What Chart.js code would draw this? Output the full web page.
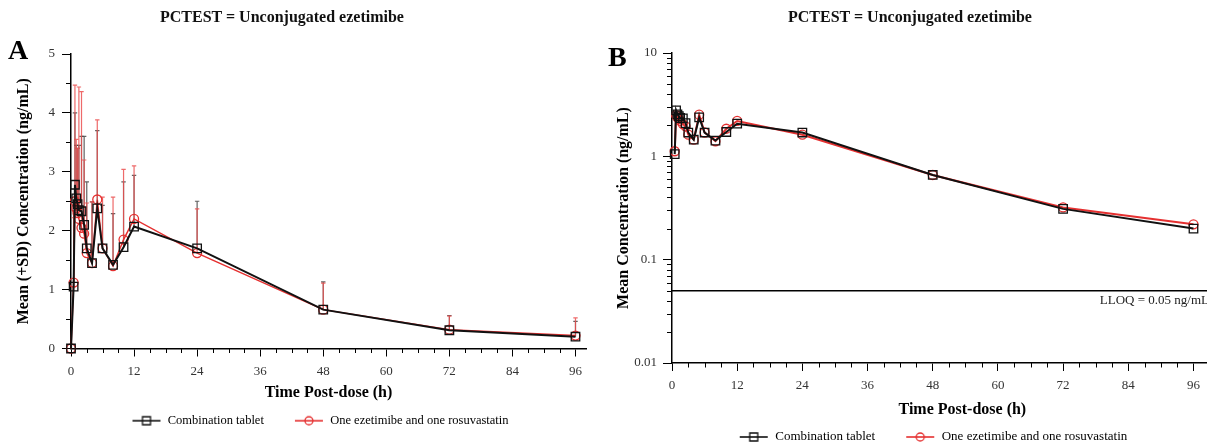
<!DOCTYPE html>
<html><head><meta charset="utf-8">
<script src="https://cdn.jsdelivr.net/npm/chart.js@4.4.0/dist/chart.umd.min.js"></script>
<style>
html,body{margin:0;padding:0;background:#fff;}
body{width:1207px;height:444px;overflow:hidden;position:relative;font-family:"Liberation Serif","DejaVu Serif",serif;}
.wrap{position:absolute;top:0;}
#wa{left:0;width:600px;height:480px;}
#wb{left:600px;width:660px;height:480px;}
.ttl{position:absolute;top:7px;font-weight:bold;font-size:16px;white-space:nowrap;transform:translateX(-50%);line-height:20px;color:#111;}
.lab{position:absolute;font-weight:bold;font-size:28px;line-height:28px;color:#000;}
</style></head><body>
<div class="wrap" id="wa"><canvas id="ca" width="600" height="480"></canvas></div>
<div class="wrap" id="wb"><canvas id="cb" width="660" height="480"></canvas></div>
<div class="ttl" style="left:282px">PCTEST = Unconjugated ezetimibe</div>
<div class="ttl" style="left:910px">PCTEST = Unconjugated ezetimibe</div>
<div class="lab" style="left:8px;top:36px">A</div>
<div class="lab" style="left:608px;top:43px">B</div>
<script>
// ---- data ----
const times = [0, 0.5, 0.75, 1, 1.25, 1.5, 2, 2.5, 3, 4, 5, 6, 8, 10, 12, 24, 48, 72, 96];
const comboMean = [0, 1.05, 2.78, 2.55, 2.45, 2.35, 2.33, 2.1, 1.7, 1.45, 2.38, 1.7, 1.42, 1.72, 2.07, 1.70, 0.66, 0.31, 0.20];
const comboSD = [0, 1.3, 1.22, 0.9, 0.95, 1.1, 1.27, 1.5, 1.13, 1.04, 1.32, 0.73, 0.87, 1.11, 0.87, 0.80, 0.47, 0.25, 0.26];
const singleMean = [0, 1.12, 2.5, 2.38, 2.3, 2.2, 2.05, 1.95, 1.62, 1.45, 2.53, 1.7, 1.4, 1.85, 2.2, 1.62, 0.66, 0.32, 0.22];
const singleSD = [0, 1.1, 1.97, 1.17, 1.1, 2.24, 2.31, 1.25, 0.85, 1.04, 1.35, 0.87, 1.17, 1.19, 0.9, 0.75, 0.45, 0.23, 0.30];
const seriesNames = ['Combination tablet', 'One ezetimibe and one rosuvastatin'];
const xTicks = [0, 12, 24, 36, 48, 60, 72, 84, 96];
const yTicksA = [0, 1, 2, 3, 4, 5];
const yTicksB = [0.01, 0.1, 1, 10];
const yTickLabelsB = ['0.01', '0.1', '1', '10'];
const lloq = 0.05;
const lloqLabel = 'LLOQ = 0.05 ng/mL';

const BLACK = '#111111';
const RED = '#e53030';
const SERIF = "'Liberation Serif', 'Times New Roman', serif";

function legendIcon(color, style) {
  const c = document.createElement('canvas');
  c.width = 30; c.height = 12;
  const g = c.getContext('2d');
  g.strokeStyle = color; g.lineWidth = 1.6;
  g.beginPath(); g.moveTo(1, 6); g.lineTo(29, 6); g.stroke();
  g.lineWidth = 1.3;
  g.beginPath();
  if (style === 'rect') g.rect(11, 2, 8, 8); else g.arc(15, 6, 4, 0, Math.PI * 2);
  g.stroke();
  return c;
}

function makeErrPlugin(sets) {
  return {
    id: 'errbars',
    beforeDatasetsDraw(chart) {
      const {ctx, scales: {x, y}} = chart;
      ctx.save();
      sets.forEach(s => {
        ctx.strokeStyle = s.color; ctx.lineWidth = s.width;
        times.forEach((t, i) => {
          if (!(s.sd[i] > 0)) return;
          const px = x.getPixelForValue(t);
          const y0 = y.getPixelForValue(s.mean[i]);
          const y1 = y.getPixelForValue(s.mean[i] + s.sd[i]);
          ctx.beginPath();
          ctx.moveTo(px, y0); ctx.lineTo(px, y1);
          ctx.moveTo(px - 2.2, y1); ctx.lineTo(px + 2.2, y1);
          ctx.stroke();
        });
      });
      ctx.restore();
    }
  };
}

function makeMinorPlugin(xMinor, yMinor) {
  return {
    id: 'minorticks',
    afterDraw(chart) {
      const {ctx, chartArea: a, scales: {x, y}} = chart;
      ctx.save();
      ctx.strokeStyle = '#000'; ctx.lineWidth = 1;
      ctx.beginPath();
      xMinor.forEach(v => { const p = Math.round(x.getPixelForValue(v)) + 0.5; ctx.moveTo(p, a.bottom); ctx.lineTo(p, a.bottom + 4.5); });
      yMinor.forEach(v => { const p = Math.round(y.getPixelForValue(v)) + 0.5; ctx.moveTo(a.left - 5, p); ctx.lineTo(a.left, p); });
      ctx.stroke();
      ctx.restore();
    }
  };
}

function makeLegendShift(dx, dy) {
  return {
    id: 'legendshift',
    afterLayout(chart) {
      const l = chart.legend;
      if (!l) return;
      l.left += dx; l.right += dx; l.top += dy; l.bottom += dy;
    }
  };
}

const lloqPlugin = {
  id: 'lloq',
  afterDatasetsDraw(chart) {
    const {ctx, chartArea: a, scales: {y}} = chart;
    const py = y.getPixelForValue(lloq);
    ctx.save();
    ctx.strokeStyle = '#000'; ctx.lineWidth = 1.3;
    ctx.beginPath(); ctx.moveTo(a.left, py); ctx.lineTo(chart.width, py); ctx.stroke();
    ctx.fillStyle = '#222';
    ctx.font = "13px " + SERIF;
    ctx.textAlign = 'right'; ctx.textBaseline = 'middle';
    ctx.fillText(lloqLabel, 609, py + 10);
    ctx.restore();
  }
};

function minorBetween(majors, n) {
  const out = [];
  for (let i = 0; i < majors.length - 1; i++) {
    const a = majors[i], b = majors[i + 1];
    for (let k = 1; k < n; k++) out.push(a + (b - a) * k / n);
  }
  return out;
}
function logMinors(majors) {
  const out = [];
  for (let i = 0; i < majors.length - 1; i++) for (let k = 2; k <= 9; k++) out.push(majors[i] * k);
  return out;
}

function legendOpts(fontSize, pad) {
  return {
    position: 'bottom',
    labels: {
      usePointStyle: true, pointStyleWidth: 30, boxHeight: 12, padding: pad,
      font: {family: SERIF, size: fontSize}, color: '#222',
      generateLabels: (chart) => chart.data.datasets.map((d, i) => ({
        text: d.label, pointStyle: legendIcon(d.borderColor, i === 0 ? 'rect' : 'circle'),
        fillStyle: 'transparent', strokeStyle: d.borderColor, lineWidth: 0, hidden: false, datasetIndex: i
      }))
    }
  };
}

function axisX(maxV, h, titlePad) {
  return {
    type: 'linear', min: 0, max: maxV,
    afterBuildTicks: s => { s.ticks = xTicks.map(v => ({value: v})); },
    ticks: {font: {family: SERIF, size: 13}, color: '#333', padding: 7, maxRotation: 0, autoSkip: false, callback: v => String(v)},
    grid: {drawOnChartArea: false, drawTicks: true, tickLength: 8, tickColor: '#000', tickWidth: 1},
    border: {display: true, color: '#000', width: 1.5},
    title: {display: true, text: 'Time Post-dose (h)', color: '#000', font: {family: SERIF, size: 16, weight: 'bold'}, padding: {top: titlePad, bottom: 0}},
    afterFit: s => { s.height = h; }
  };
}

// ---- Chart A ----
new Chart(document.getElementById('ca'), {
  type: 'line',
  data: {
    datasets: [
      {label: seriesNames[0], data: times.map((t, i) => ({x: t, y: comboMean[i]})), borderColor: BLACK, borderWidth: 2,
       pointStyle: 'rect', pointRadius: 6, pointBorderWidth: 1.3, pointBackgroundColor: 'rgba(0,0,0,0)', pointBorderColor: BLACK, tension: 0, clip: false},
      {label: seriesNames[1], data: times.map((t, i) => ({x: t, y: singleMean[i]})), borderColor: RED, borderWidth: 1.5,
       pointStyle: 'circle', pointRadius: 4.5, pointBorderWidth: 1.3, pointBackgroundColor: 'rgba(0,0,0,0)', pointBorderColor: RED, tension: 0, clip: false}
    ]
  },
  options: {
    responsive: false, animation: false,
    layout: {padding: {left: 0, right: 14, top: 54, bottom: 25}},
    plugins: {legend: legendOpts(12.5, 30), tooltip: {enabled: false}},
    scales: {
      x: axisX(98, 54, 0),
      y: {
        type: 'linear', min: 0, max: 5,
        afterBuildTicks: s => { s.ticks = yTicksA.map(v => ({value: v})); },
        ticks: {font: {family: SERIF, size: 13}, color: '#333', padding: 7, callback: v => String(v)},
        grid: {drawOnChartArea: false, drawTicks: true, tickLength: 9, tickColor: '#000', tickWidth: 1},
        border: {display: true, color: '#000', width: 1.5},
        title: {display: true, text: 'Mean (+SD) Concentration (ng/mL)', color: '#000', font: {family: SERIF, size: 16, weight: 'bold'}, padding: {top: 14, bottom: 0}},
        afterFit: s => { s.width = 71; }
      }
    }
  },
  plugins: [
    makeErrPlugin([
      {mean: comboMean, sd: comboSD, color: 'rgba(70,70,70,0.85)', width: 1.2},
      {mean: singleMean, sd: singleSD, color: 'rgba(235,80,80,0.85)', width: 1.2}
    ]),
    makeMinorPlugin(minorBetween(xTicks, 4), minorBetween(yTicksA, 2)),
    makeLegendShift(27, -18)
  ]
});

// ---- Chart B ----
new Chart(document.getElementById('cb'), {
  type: 'line',
  data: {
    datasets: [
      {label: seriesNames[0], data: times.map((t, i) => ({x: t, y: comboMean[i]})).filter(p => p.y > 0), borderColor: BLACK, borderWidth: 2,
       pointStyle: 'rect', pointRadius: 6, pointBorderWidth: 1.3, pointBackgroundColor: 'rgba(0,0,0,0)', pointBorderColor: BLACK, tension: 0, clip: false},
      {label: seriesNames[1], data: times.map((t, i) => ({x: t, y: singleMean[i]})).filter(p => p.y > 0), borderColor: RED, borderWidth: 2,
       pointStyle: 'circle', pointRadius: 4.5, pointBorderWidth: 1.3, pointBackgroundColor: 'rgba(0,0,0,0)', pointBorderColor: RED, tension: 0, clip: false}
    ]
  },
  options: {
    responsive: false, animation: false,
    layout: {padding: {left: 0, right: 0, top: 53, bottom: 8}},
    plugins: {legend: legendOpts(13, 30), tooltip: {enabled: false}},
    scales: {
      x: axisX(106.9, 56, 0),
      y: {
        type: 'logarithmic', min: 0.01, max: 10,
        afterBuildTicks: s => { s.ticks = yTicksB.map(v => ({value: v})); },
        ticks: {font: {family: SERIF, size: 13}, color: '#333', padding: 6, callback: (v, i) => yTickLabelsB[i]},
        grid: {drawOnChartArea: false, drawTicks: true, tickLength: 9, tickColor: '#000', tickWidth: 1},
        border: {display: true, color: '#000', width: 1.5},
        title: {display: true, text: 'Mean Concentration (ng/mL)', color: '#000', font: {family: SERIF, size: 16, weight: 'bold'}, padding: {top: 14, bottom: 0}},
        afterFit: s => { s.width = 72; }
      }
    }
  },
  plugins: [
    lloqPlugin,
    makeMinorPlugin(minorBetween(xTicks, 4), logMinors(yTicksB)),
    makeLegendShift(3, -18.5)
  ]
});
</script>
</body></html>
